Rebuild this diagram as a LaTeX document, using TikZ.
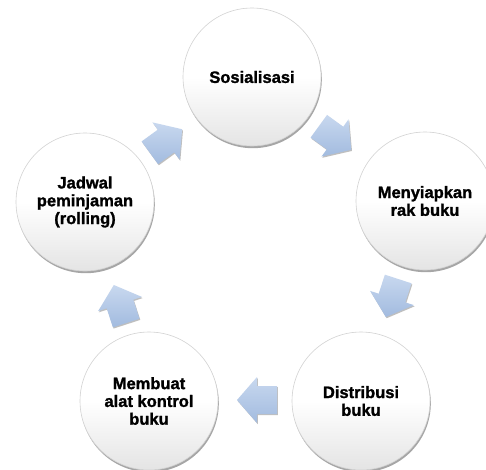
\documentclass[tikz,border=0pt]{standalone}
\usepackage{fontspec}
\setmainfont{Liberation Sans}
\newfontfamily\stagefont[FakeBold=1.4]{Liberation Sans Bold}
\usetikzlibrary{shadows}
\definecolor{arrowtop}{HTML}{C8D8EF}
\definecolor{arrowbot}{HTML}{A2BBDF}
\definecolor{ringline}{HTML}{D2D2D2}
\definecolor{circbot}{HTML}{E4E4E4}
\tikzset{
  stage/.style={circle, minimum size=138pt, inner sep=0pt, align=center,
    draw=ringline, line width=0.6pt, top color=white, bottom color=circbot,
    middle color=white,
    drop shadow={shadow xshift=0.8pt, shadow yshift=-2.2pt, opacity=0.35, fill=black},
    font=\stagefont\fontsize{16.5}{17.8}\selectfont},
  blockarrow/.style={draw=none, top color=arrowtop, bottom color=arrowbot,
    drop shadow={shadow xshift=0.8pt, shadow yshift=-1.2pt, opacity=0.25, fill=black}}
}
\newcommand{\cyclearrow}[3]{%
  \path[blockarrow, shift={(#1,#2)}, rotate=#3]
    (-20,-14) -- (0,-14) -- (0,-23) -- (20,0) -- (0,23) -- (0,14) -- (-20,14) -- cycle;}
\begin{document}
\begin{tikzpicture}[x=1pt, y=-1pt]
\useasboundingbox (0,0) rectangle (486,469);
\fill[white] (0,0) rectangle (486,469);
\node[stage] (n1) at (252,77) {Sosialisasi};
\node[stage] (n2) at (425,201) {Menyiapkan\\rak buku};
\node[stage] (n3) at (361,401) {Distribusi\\buku};
\node[stage] (n4) at (149,401) {Membuat\\alat kontrol\\buku};
\node[stage] (n5) at (85,202) {Jadwal\\peminjaman\\(rolling)};
\cyclearrow{335}{138}{-36}
\cyclearrow{392}{298}{-108}
\cyclearrow{257}{400}{180}
\cyclearrow{120}{304}{108}
\cyclearrow{166}{141}{36}
\end{tikzpicture}
\end{document}
